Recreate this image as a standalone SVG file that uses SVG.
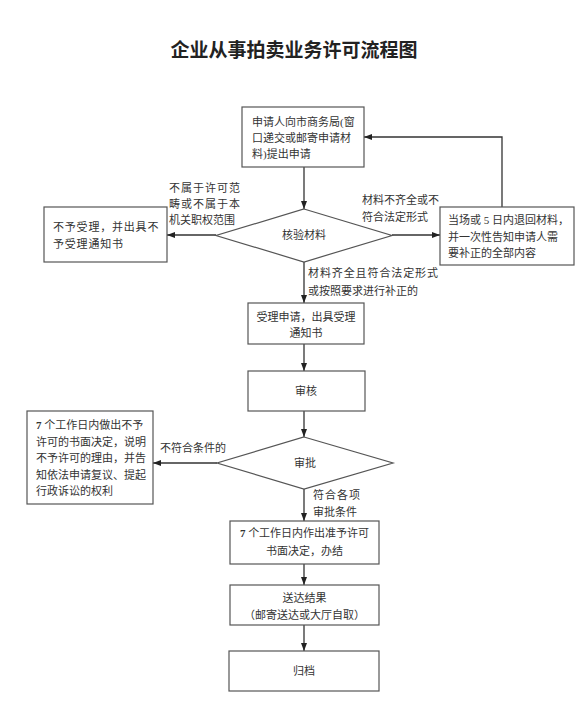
<svg xmlns="http://www.w3.org/2000/svg" width="582" height="714" viewBox="0 0 582 714">
<style>
.box{fill:#fff;stroke:#555;stroke-width:1.2}
.t{font-family:"Liberation Serif","Noto Sans CJK SC",serif;font-size:11px;fill:#333}
.c{text-anchor:middle}
.b{font-weight:bold}
.ln{fill:none;stroke:#333;stroke-width:1.3;marker-end:url(#ah)}
.title{font-family:"Liberation Serif","Noto Sans CJK SC",serif;font-size:19px;font-weight:bold;fill:#222;text-anchor:middle}
</style>
<defs>
<marker id="ah" markerUnits="userSpaceOnUse" markerWidth="8" markerHeight="8" viewBox="0 0 8 8" refX="8" refY="4" orient="auto">
<path d="M0,1 L8,4 L0,7 Z" fill="#222"/>
</marker>
</defs>
<rect width="582" height="714" fill="#fff"/>
<text class="title" x="294" y="57">企业从事拍卖业务许可流程图</text>

<g id="connectors">
<path class="ln" d="M304,167 V209"/>
<path class="ln" d="M216,235 H167"/>
<path class="ln" d="M392,235 H440"/>
<path class="ln" d="M502,207 V137 H364"/>
<path class="ln" d="M304,262 V303"/>
<path class="ln" d="M304,344 V371"/>
<path class="ln" d="M304,411 V437"/>
<path class="ln" d="M217,463 H153"/>
<path class="ln" d="M304,489 V521"/>
<path class="ln" d="M304,564 V585"/>
<path class="ln" d="M304,625 V651"/>
</g>

<g id="labels">
<text class="t" x="169" y="192" letter-spacing="1">不属于许可范</text>
<text class="t" x="169" y="208" letter-spacing="1">畴或不属于本</text>
<text class="t" x="169" y="224">机关职权范围</text>
<text class="t" x="362" y="204">材料不齐全或不</text>
<text class="t" x="362" y="221">符合法定形式</text>
<text class="t" x="308" y="277" letter-spacing="0.9">材料齐全且符合法定形式</text>
<text class="t" x="308" y="295">或按照要求进行补正的</text>
<text class="t" x="160" y="452">不符合条件的</text>
<text class="t" x="313" y="499" letter-spacing="1">符合各项</text>
<text class="t" x="313" y="516">审批条件</text>
</g>

<g id="apply">
<rect class="box" x="242" y="107" width="122" height="60"/>
<text class="t" x="252" y="126">申请人向市商务局(窗</text>
<text class="t" x="252" y="142">口递交或邮寄申请材</text>
<text class="t" x="252" y="158">料)提出申请</text>
</g>

<g id="check">
<polygon class="box" points="304,209 392,235.5 304,262 216,235.5"/>
<text class="t c" x="304" y="239">核验材料</text>
</g>

<g id="reject">
<rect class="box" x="44" y="207" width="123" height="55"/>
<text class="t" x="53" y="231" letter-spacing="0.8">不予受理，并出具不</text>
<text class="t" x="53" y="248" letter-spacing="0.8">予受理通知书</text>
</g>

<g id="return">
<rect class="box" x="440" y="207" width="134" height="58"/>
<text class="t" x="448" y="224">当场或 5 日内退回材料，</text>
<text class="t" x="448" y="241">并一次性告知申请人需</text>
<text class="t" x="448" y="257">要补正的全部内容</text>
</g>

<g id="accept">
<rect class="box" x="248" y="303" width="116" height="41"/>
<text class="t c" x="306" y="321">受理申请，出具受理</text>
<text class="t c" x="306" y="337">通知书</text>
</g>

<g id="review">
<rect class="box" x="248" y="371" width="117" height="40"/>
<text class="t c" x="306" y="395">审核</text>
</g>

<g id="approve">
<polygon class="box" points="304,437 393,463 304,489 217,463"/>
<text class="t c" x="305" y="467">审批</text>
</g>

<g id="deny">
<rect class="box" x="27" y="411" width="126" height="93"/>
<text class="t" x="36" y="429"><tspan class="b">7</tspan> 个工作日内做出不予</text>
<text class="t" x="36" y="446">许可的书面决定，说明</text>
<text class="t" x="36" y="462">不予许可的理由，并告</text>
<text class="t" x="36" y="479">知依法申请复议、提起</text>
<text class="t" x="36" y="495">行政诉讼的权利</text>
</g>

<g id="grant">
<rect class="box" x="230" y="521" width="149" height="43"/>
<text class="t c" x="304.5" y="537"><tspan class="b">7</tspan> 个工作日内作出准予许可</text>
<text class="t c" x="304.5" y="555">书面决定，办结</text>
</g>

<g id="deliver">
<rect class="box" x="230" y="585" width="149" height="40"/>
<text class="t c" x="304.5" y="602">送达结果</text>
<text class="t c" x="304.5" y="619">（邮寄送达或大厅自取）</text>
</g>

<g id="archive">
<rect class="box" x="229" y="651" width="150" height="40"/>
<text class="t c" x="304" y="675">归档</text>
</g>
</svg>
